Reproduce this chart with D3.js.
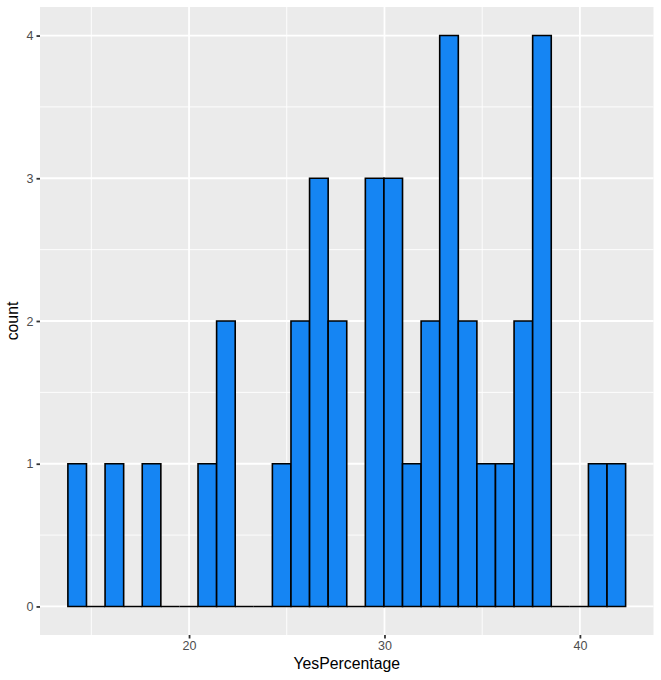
<!DOCTYPE html>
<html>
<head>
<meta charset="utf-8">
<script src="https://cdn.jsdelivr.net/npm/d3@7"></script>
<style>
  body { margin: 0; background: #fff; }
  svg { display: block; font-family: "Liberation Sans", Arial, sans-serif; }
</style>
</head>
<body>
<svg id="chart" width="661" height="680"></svg>
<script>
// ---- data (30 bins) ----
const binStart = 13.8;          // left edge of first bin
const binWidth = 0.9513;        // width of each bin
const counts = [1,0,1,0,1,0,0,1,2,0,0,1,2,3,2,0,3,3,1,2,4,2,1,1,2,4,0,0,1,1];
const xTicks = [20, 30, 40];
const xMinor = [15, 25, 35];
const yTicks = [0, 1, 2, 3, 4];
const yMinor = [0.5, 1.5, 2.5, 3.5];
const xTitle = "YesPercentage";
const yTitle = "count";

const bins = counts.map((c, i) => ({
  x0: binStart + i * binWidth,
  x1: binStart + (i + 1) * binWidth,
  count: c
}));

const svg = d3.select("#chart");
const panel = { left: 40, right: 653.5, top: 7, bottom: 635 };

const xLo = bins[0].x0, xHi = bins[bins.length - 1].x1;
const xPad = (xHi - xLo) * 0.05;
const yMax = d3.max(counts);
const yPad = yMax * 0.05;

const x = d3.scaleLinear().domain([xLo - xPad, xHi + xPad]).range([panel.left, panel.right]);
const y = d3.scaleLinear().domain([-yPad, yMax + yPad]).range([panel.bottom, panel.top]);

// panel background
svg.append("rect")
  .attr("x", panel.left).attr("y", panel.top)
  .attr("width", panel.right - panel.left).attr("height", panel.bottom - panel.top)
  .attr("fill", "#EBEBEB");

// minor grid
const g = svg.append("g");
g.selectAll(".xm").data(xMinor).join("line")
  .attr("x1", d => x(d)).attr("x2", d => x(d))
  .attr("y1", panel.top).attr("y2", panel.bottom)
  .attr("stroke", "#fff").attr("stroke-width", 0.9);
g.selectAll(".ym").data(yMinor).join("line")
  .attr("y1", d => y(d)).attr("y2", d => y(d))
  .attr("x1", panel.left).attr("x2", panel.right)
  .attr("stroke", "#fff").attr("stroke-width", 0.9);
// major grid
g.selectAll(".xM").data(xTicks).join("line")
  .attr("x1", d => x(d)).attr("x2", d => x(d))
  .attr("y1", panel.top).attr("y2", panel.bottom)
  .attr("stroke", "#fff").attr("stroke-width", 1.8);
g.selectAll(".yM").data(yTicks).join("line")
  .attr("y1", d => y(d)).attr("y2", d => y(d))
  .attr("x1", panel.left).attr("x2", panel.right)
  .attr("stroke", "#fff").attr("stroke-width", 1.8);

// bars (as closed paths so zero-count bins still show their outline)
svg.append("g").selectAll("path").data(bins).join("path")
  .attr("d", d => {
    const a = x(d.x0), b = x(d.x1), t = y(d.count), z = y(0);
    return `M${a},${z}L${a},${t}L${b},${t}L${b},${z}Z`;
  })
  .attr("fill", "#1585F3")
  .attr("stroke", "#000")
  .attr("stroke-width", 1.6)
  .attr("stroke-linejoin", "miter");

// axes
const xAxis = d3.axisBottom(x).tickValues(xTicks).tickSize(3.5).tickPadding(3).tickFormat(d3.format("d"));
const yAxis = d3.axisLeft(y).tickValues(yTicks).tickSize(3.5).tickPadding(3).tickFormat(d3.format("d"));

const gx = svg.append("g").attr("transform", `translate(0,${panel.bottom})`).call(xAxis);
const gy = svg.append("g").attr("transform", `translate(${panel.left},0)`).call(yAxis);
[gx, gy].forEach(a => {
  a.attr("font-size", null).attr("font-family", null);
  a.select(".domain").remove();
  a.selectAll(".tick line").attr("stroke", "#333333").attr("stroke-width", 1.8);
  a.selectAll(".tick text").attr("fill", "#4D4D4D").style("font-size", "12.5px")
    .style("font-family", "Liberation Sans, Arial, sans-serif");
});

// titles
svg.append("text")
  .attr("x", (panel.left + panel.right) / 2).attr("y", 669)
  .attr("text-anchor", "middle")
  .attr("fill", "#000").style("font-size", "15.8px")
  .text(xTitle);
svg.append("text")
  .attr("transform", `translate(18,${(panel.top + panel.bottom) / 2}) rotate(-90)`)
  .attr("text-anchor", "middle")
  .attr("fill", "#000").style("font-size", "15.8px")
  .text(yTitle);
</script>
</body>
</html>
